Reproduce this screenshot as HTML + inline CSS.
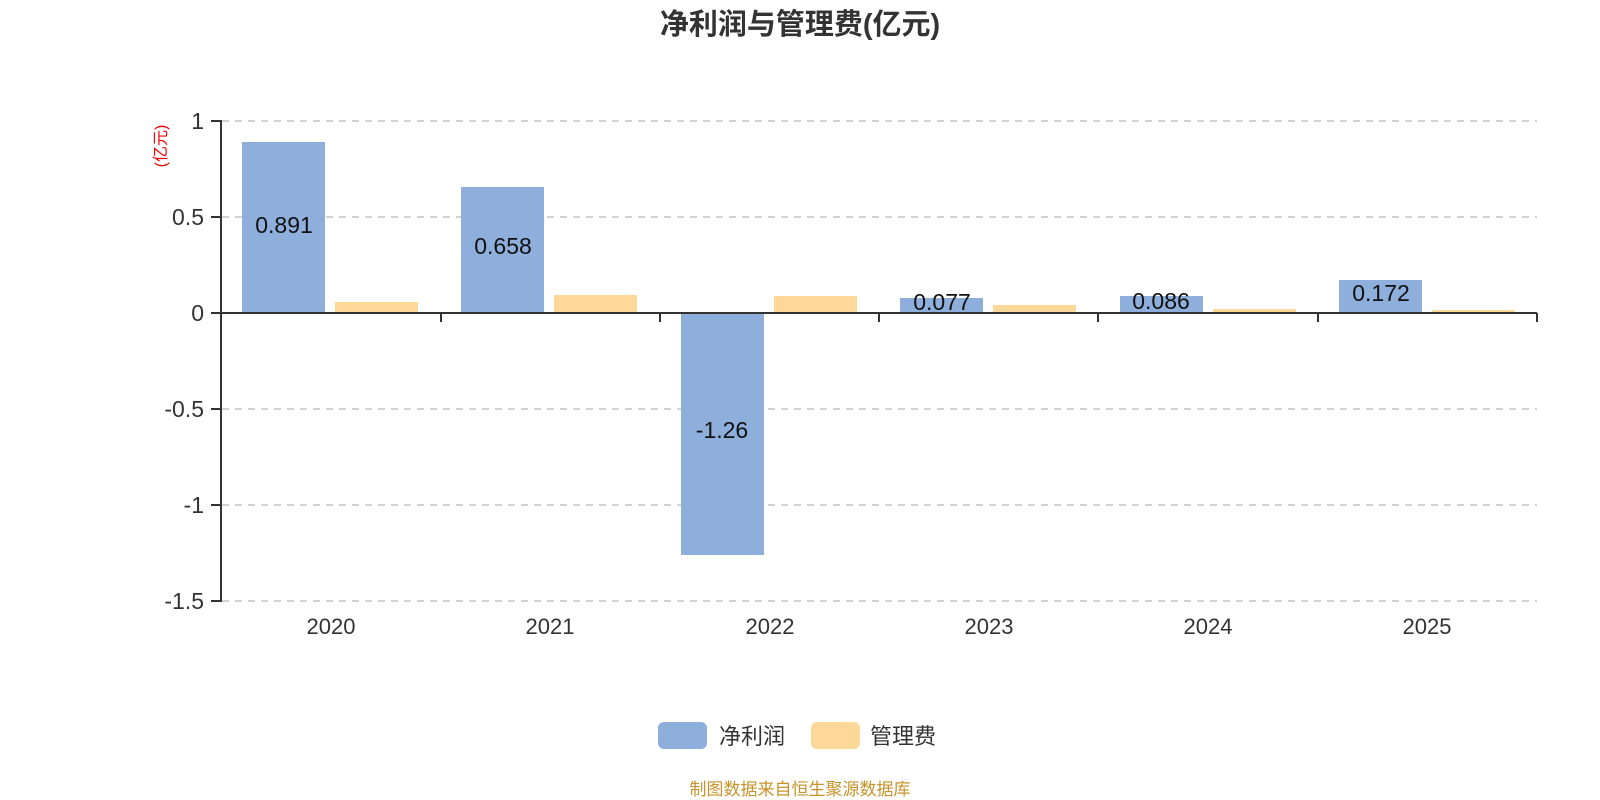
<!DOCTYPE html>
<html><head><meta charset="utf-8"><style>
html,body{margin:0;padding:0;background:#fff;}
svg{display:block;font-family:"Liberation Sans","Noto Sans CJK SC",sans-serif;}
</style></head><body>
<svg width="1600" height="800" xmlns="http://www.w3.org/2000/svg">
<text x="800" y="34" text-anchor="middle" font-size="29" font-weight="bold" fill="#333">净利润与管理费(亿元)</text>
<text transform="translate(166,146) rotate(-90)" text-anchor="middle" font-size="16" fill="#e00">(亿元)</text>
<g stroke="#c4c4c4" stroke-width="1.5" stroke-dasharray="7,6">
<line x1="222" x2="1537" y1="121" y2="121"/>
<line x1="222" x2="1537" y1="217" y2="217"/>
<line x1="222" x2="1537" y1="409" y2="409"/>
<line x1="222" x2="1537" y1="505" y2="505"/>
<line x1="222" x2="1537" y1="601" y2="601"/>
</g>
<g font-size="23" fill="#333" text-anchor="end">
<text x="204" y="129">1</text>
<text x="204" y="225">0.5</text>
<text x="204" y="321">0</text>
<text x="204" y="417">-0.5</text>
<text x="204" y="513">-1</text>
<text x="204" y="609">-1.5</text>
</g>
<g fill="#8eaedb">
<rect x="242" y="142" width="83" height="171"/>
<rect x="461" y="187" width="83" height="126"/>
<rect x="681" y="313" width="83" height="242"/>
<rect x="900" y="298" width="83" height="15"/>
<rect x="1120" y="296" width="83" height="17"/>
<rect x="1339" y="280" width="83" height="33"/>
</g>
<g fill="#fdd898">
<rect x="335" y="302" width="83" height="11"/>
<rect x="554" y="295" width="83" height="18"/>
<rect x="774" y="296" width="83" height="17"/>
<rect x="993" y="305" width="83" height="8"/>
<rect x="1213" y="309" width="83" height="4"/>
<rect x="1432" y="310" width="83" height="3"/>
</g>
<g stroke="#333" stroke-width="2" fill="none">
<line x1="221" y1="120" x2="221" y2="602"/>
<line x1="211" y1="121" x2="221" y2="121"/>
<line x1="211" y1="217" x2="221" y2="217"/>
<line x1="211" y1="313" x2="221" y2="313"/>
<line x1="211" y1="409" x2="221" y2="409"/>
<line x1="211" y1="505" x2="221" y2="505"/>
<line x1="211" y1="601" x2="221" y2="601"/>
<line x1="221" y1="313" x2="1537" y2="313"/>
<line x1="441" y1="313" x2="441" y2="322"/>
<line x1="660" y1="313" x2="660" y2="322"/>
<line x1="879" y1="313" x2="879" y2="322"/>
<line x1="1098" y1="313" x2="1098" y2="322"/>
<line x1="1318" y1="313" x2="1318" y2="322"/>
<line x1="1537" y1="313" x2="1537" y2="322"/>
</g>
<g font-size="23" fill="#111" text-anchor="middle">
<text x="284" y="233">0.891</text>
<text x="503" y="254">0.658</text>
<text x="722" y="438">-1.26</text>
<text x="942" y="310">0.077</text>
<text x="1161" y="309">0.086</text>
<text x="1381" y="301">0.172</text>
</g>
<g font-size="22" fill="#333" text-anchor="middle">
<text x="331" y="634">2020</text>
<text x="550" y="634">2021</text>
<text x="770" y="634">2022</text>
<text x="989" y="634">2023</text>
<text x="1208" y="634">2024</text>
<text x="1427" y="634">2025</text>
</g>
<rect x="658" y="722" width="49" height="27" rx="6" fill="#8eaedb"/>
<text x="719" y="744" font-size="22" fill="#333">净利润</text>
<rect x="811" y="722" width="49" height="27" rx="6" fill="#fdd898"/>
<text x="870" y="744" font-size="22" fill="#333">管理费</text>
<text x="800" y="795" text-anchor="middle" font-size="17" fill="#c8932a">制图数据来自恒生聚源数据库</text>
</svg>
</body></html>
